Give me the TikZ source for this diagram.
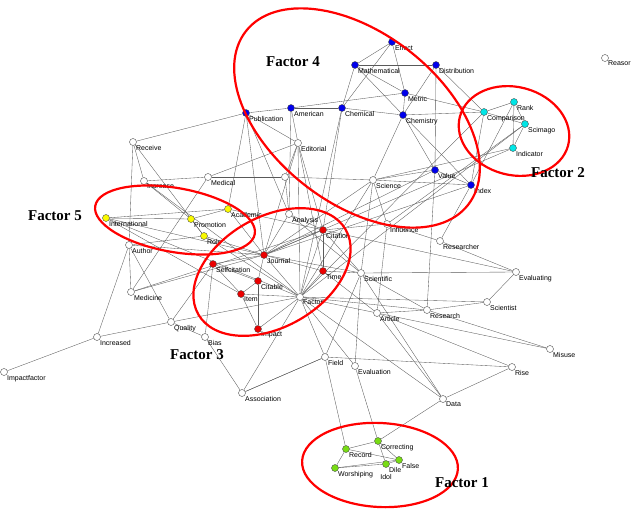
\documentclass[tikz,border=0pt]{standalone}
\usepackage{fontspec}
\setmainfont{Liberation Sans}
\newfontfamily\facfont{Liberation Serif}
\usetikzlibrary{backgrounds}
\definecolor{fone}{RGB}{120,220,20}
\definecolor{ftwo}{RGB}{0,230,230}
\definecolor{fthree}{RGB}{235,0,0}
\definecolor{ffour}{RGB}{0,0,235}
\definecolor{ffive}{RGB}{250,250,0}
\tikzset{
 dot/.style={circle,draw=black!70,line width=0.4pt,minimum size=7pt,inner sep=0pt,fill=white},
 lab/.style={anchor=north west,inner sep=0.3pt,font=\fontsize{7}{8}\selectfont},
 edge/.style={draw=black!65,line width=0.35pt},
 factor/.style={draw=red,line width=2.2pt},
 ftext/.style={font=\facfont\bfseries\fontsize{15}{16}\selectfont}
}
\newcommand{\nd}[5]{\node[dot,fill=#4,label={[lab]south east:#5}] (#1) at (#2,#3) {};}
\begin{document}
\begin{tikzpicture}[x=1pt,y=-1pt]
\useasboundingbox (0,0) rectangle (640,509);
% Factor 4
\nd{Effect}{392}{42}{ffour}{Effect}
\nd{Mathematical}{355}{65}{ffour}{Mathematical}
\nd{Distribution}{436}{65}{ffour}{Distribution}
\nd{Metric}{405}{93}{ffour}{Metric}
\nd{Chemical}{342}{108}{ffour}{Chemical}
\nd{Chemistry}{403}{115}{ffour}{Chemistry}
\nd{American}{291}{108}{ffour}{American}
\nd{Publication}{246}{113}{ffour}{Publication}
\nd{Value}{435}{170}{ffour}{Value}
\nd{Index}{471}{185}{ffour}{Index}
% Factor 2
\nd{Comparison}{484}{112}{ftwo}{Comparison}
\nd{Rank}{514}{102}{ftwo}{Rank}
\nd{Scimago}{525}{124}{ftwo}{Scimago}
\nd{Indicator}{513}{148}{ftwo}{Indicator}
% Factor 5
\nd{International}{106}{218}{ffive}{International}
\nd{Promotion}{191}{219}{ffive}{Promotion}
\nd{Academic}{228}{209}{ffive}{Academic}
\nd{Role}{204}{236}{ffive}{Role}
% Factor 3
\nd{Journal}{264}{255}{fthree}{Journal}
\nd{Selfcitation}{213}{264}{fthree}{Selfcitation}
\nd{Citable}{258}{281}{fthree}{Citable}
\nd{Item}{241}{294}{fthree}{Item}
\nd{Impact}{258}{329}{fthree}{Impact}
\nd{Citation}{323}{230}{fthree}{Citation}
\nd{Time}{323}{271}{fthree}{Time}
% Factor 1
\nd{Record}{346}{449}{fone}{Record}
\nd{Correcting}{378}{441}{fone}{Correcting}
\nd{Worshiping}{335}{468}{fone}{Worshiping}
\nd{Idol}{386}{464}{fone}{Dile}
\nd{False}{399}{460}{fone}{False}
\node[lab,anchor=north] (IdolLab) at (386,474) {Idol};
% others
\nd{Reasor}{605}{58}{white}{Reasor}
\nd{Receive}{133}{142}{white}{Receive}
\nd{Increase}{144}{181}{white}{Increase}
\nd{Medical}{208}{177}{white}{Medical}
\nd{Editorial}{298}{143}{white}{Editorial}
\nd{Social}{285}{177}{white}{}
\nd{Science}{373}{180}{white}{Science}
\nd{Author}{129}{245}{white}{Author}
\nd{Medicine}{131}{292}{white}{Medicine}
\nd{Quality}{171}{322}{white}{Quality}
\nd{Bias}{205}{337}{white}{Bias}
\nd{Increased}{97}{337}{white}{Increased}
\nd{Impactfactor}{4}{372}{white}{Impactfactor}
\nd{Association}{242}{393}{white}{Association}
\nd{Analysis}{289}{214}{white}{Analysis}
\nd{Factor}{300}{297}{white}{Factor}
\nd{Scientific}{361}{273}{white}{Scientific}
\nd{Article}{377}{313}{white}{Article}
\nd{Research}{427}{310}{white}{Research}
\nd{Scientist}{487}{302}{white}{Scientist}
\nd{Evaluating}{516}{272}{white}{Evaluating}
\nd{Researcher}{440}{241}{white}{Researcher}
\nd{Influence}{387}{224}{white}{Influence}
\nd{Misuse}{550}{349}{white}{Misuse}
\nd{Rise}{512}{367}{white}{Rise}
\nd{Data}{443}{399}{white}{Data}
\nd{Field}{325}{357}{white}{Field}
\nd{Evaluation}{355}{366}{white}{Evaluation}
% ellipses
\draw[factor] (357,118) ellipse[x radius=141,y radius=85,rotate=-38];
\draw[factor] (514,131) ellipse[x radius=56,y radius=44,rotate=-15];
\draw[factor] (175,220) ellipse[x radius=81,y radius=32,rotate=-10];
\draw[factor] (272,272) ellipse[x radius=85,y radius=55,rotate=30];
\draw[factor] (380,465) ellipse[x radius=78,y radius=42,rotate=-3];
\node[ftext] (F4) at (293,62) {Factor 4};
\node[ftext] (F2) at (558,173) {Factor 2};
\node[ftext] (F5) at (55,216) {Factor 5};
\node[ftext] (F3) at (197,355) {Factor 3};
\node[ftext] (F1) at (462,483) {Factor 1};
\begin{pgfonlayer}{background}
\foreach \a/\b in {Effect/Mathematical,Effect/Metric,Effect/Chemical,Mathematical/Distribution,Mathematical/Chemical,Mathematical/Metric,Mathematical/Chemistry,Distribution/Chemistry,Distribution/Comparison,Distribution/Value,Metric/Comparison,Metric/Chemistry,Metric/American,Chemical/Chemistry,Chemical/American,American/Publication,Chemistry/Comparison,Chemistry/Value,Chemistry/Index,Chemistry/Science,Chemical/Factor,Chemical/Citation,Publication/Receive,Publication/Editorial,Publication/Journal,Publication/Academic,Publication/Analysis,American/Editorial,American/Analysis,Editorial/Journal,Editorial/Factor,Editorial/Citation,Editorial/Time,Receive/Increase,Receive/Author,Receive/Role,Increase/Medical,Increase/Promotion,Increase/Factor,Medical/Editorial,Medical/Medicine,International/Promotion,International/Academic,International/Journal,International/Factor,International/Item,Promotion/Academic,Promotion/Role,Academic/Journal,Academic/Citation,Role/Journal,Role/Factor,Author/Medicine,Author/Quality,Author/Increased,Author/Journal,Author/Role,Medicine/Journal,Medicine/Citation,Quality/Factor,Quality/Increased,Quality/Bias,Quality/Selfcitation,Increased/Impactfactor,Bias/Association,Bias/Selfcitation,Association/Factor,Association/Field,Selfcitation/Journal,Selfcitation/Citable,Selfcitation/Item,Citable/Item,Citable/Journal,Item/Impact,Item/Factor,Impact/Factor,Impact/Citable,Journal/Factor,Journal/Citation,Journal/Analysis,Journal/Time,Journal/Scientific,Journal/Science,Journal/Value,Journal/Index,Journal/Indicator,Citation/Factor,Citation/Time,Citation/Scientific,Citation/Evaluating,Citation/Influence,Analysis/Scientific,Analysis/Citation,Factor/Time,Factor/Field,Factor/Evaluation,Factor/Article,Factor/Research,Factor/Scientist,Factor/Data,Factor/Science,Factor/Scimago,Factor/Comparison,Time/Scientific,Time/Article,Scientific/Science,Scientific/Evaluating,Scientific/Research,Scientific/Data,Scientific/Field,Science/Value,Science/Index,Science/Influence,Influence/Researcher,Influence/Article,Value/Research,Value/Index,Index/Researcher,Index/Comparison,Index/Rank,Researcher/Evaluating,Evaluating/Scientist,Scientist/Research,Research/Article,Research/Misuse,Article/Misuse,Article/Rise,Article/Data,Rise/Field,Rise/Data,Data/Correcting,Field/Record,Evaluation/Correcting,Evaluation/Scientific,Field/Association,Comparison/Rank,Comparison/Scimago,Rank/Scimago,Scimago/Indicator,Rank/Indicator,Indicator/Science,Scimago/Influence,Record/Correcting,Record/Worshiping,Worshiping/Idol,Idol/False,Record/False,Worshiping/False,Correcting/False,Correcting/Idol,Social/Analysis,Social/Editorial,Social/Science,Medical/Social}
  \draw[edge] (\a) -- (\b);
\end{pgfonlayer}
\end{tikzpicture}
\end{document}
